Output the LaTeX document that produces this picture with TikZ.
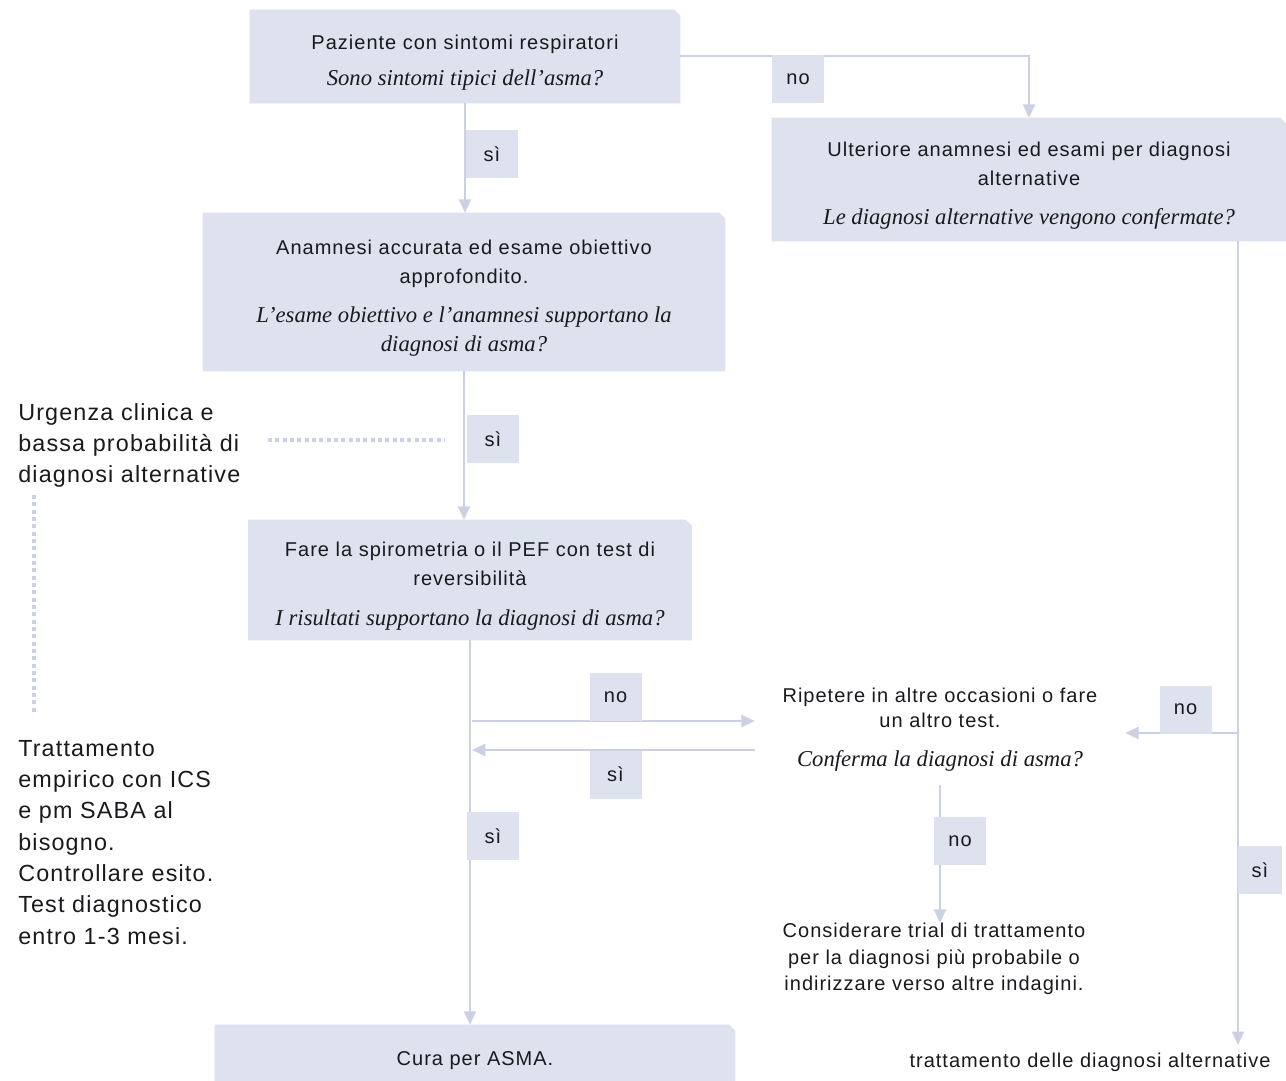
\documentclass[tikz,border=0pt]{standalone}
\usepackage{fontspec}
\setmainfont{Liberation Sans}[LetterSpace=5]
\newfontfamily\qfont{Liberation Serif}
\usetikzlibrary{arrows.meta}
\definecolor{boxfill}{RGB}{222,225,238}
\definecolor{linec}{RGB}{203,208,229}
\definecolor{txt}{RGB}{25,25,30}
\newcommand\bxfont{\fontsize{15}{21.75}\selectfont}
\newcommand\qtxt{\fontsize{17}{21.75}\selectfont\qfont\itshape}
\newcommand\lfont{\fontsize{17.5}{23.5}\selectfont}
\newcommand\chfill[1]{\fill[boxfill] (#1.south west) -- (#1.north west) -- ([xshift=-4.5pt]#1.north east) -- ([yshift=-4.5pt]#1.north east) -- (#1.south east) -- cycle;}
\begin{document}
\begin{tikzpicture}[x=0.75pt,y=-0.75pt,
  every node/.style={inner sep=0pt, text=txt},
  bigbox/.style={rectangle},
  boxtext/.style={align=center, font=\bxfont, yshift=-4.5pt},
  lab/.style={fill=boxfill, font=\bxfont, minimum width=39pt, minimum height=36pt},
  plain/.style={align=center, font=\bxfont},
  side/.style={align=left, anchor=north west, font=\lfont},
  conn/.style={draw=linec, line width=1.5pt},
  arr/.style={conn, -{Triangle[width=9pt,length=10pt]}},
  dotline/.style={draw=linec, line width=3pt, dash pattern=on 3pt off 2.5pt},
]
\useasboundingbox (0,0) rectangle (1286,1081);

% main boxes (shapes)
\node[bigbox, minimum width=322.5pt, minimum height=69.75pt] (A) at (465,56.5) {};
\node[bigbox, minimum width=391.5pt, minimum height=118.5pt] (B) at (464,292) {};
\node[bigbox, minimum width=332.25pt, minimum height=90pt] (C) at (470,580) {};
\node[bigbox, minimum width=385.5pt, minimum height=92.25pt] (D) at (1029,179.5) {};
\node[bigbox, minimum width=390pt, minimum height=42pt] (E) at (475,1053) {};
\chfill{A}\chfill{B}\chfill{C}\chfill{D}\chfill{E}

% box texts
\node[boxtext] (At) at (A.center)
  {Paziente con sintomi respiratori\\[5pt]{\qtxt Sono sintomi tipici dell’asma?}};
\node[boxtext] (Bt) at (B.center)
  {Anamnesi accurata ed esame obiettivo\\approfondito.\\[8pt]{\qtxt L’esame obiettivo e l’anamnesi supportano la}\\{\qtxt diagnosi di asma?}};
\node[boxtext] (Ct) at (C.center)
  {Fare la spirometria o il PEF con test di\\reversibilità\\[8pt]{\qtxt I risultati supportano la diagnosi di asma?}};
\node[boxtext] (Dt) at (D.center)
  {Ulteriore anamnesi ed esami per diagnosi\\alternative\\[7pt]{\qtxt Le diagnosi alternative vengono confermate?}};
\node[boxtext, yshift=-1.5pt] (Et) at (E.center) {Cura per ASMA.};

% free texts
\node[plain, font=\fontsize{15}{18.75}\selectfont, minimum width=277.5pt, minimum height=87pt] (R) at (940,727) {};
\node[plain, font=\fontsize{15}{18.75}\selectfont, yshift=-2pt] (Rt) at (R.center)
  {Ripetere in altre occasioni o fare\\un altro test.\\[11pt]{\qtxt Conferma la diagnosi di asma?}};
\node[plain, font=\fontsize{15}{20}\selectfont] (K) at (934,959)
  {Considerare trial di trattamento\\per la diagnosi più probabile o\\indirizzare verso altre indagini.};
\node[plain] (T) at (1090,1062) {trattamento delle diagnosi alternative};
\node[side] (U) at (18,403) {Urgenza clinica e\\bassa probabilità di\\diagnosi alternative};
\node[side] (S) at (18,740) {Trattamento\\empirico con ICS\\e pm SABA al\\bisogno.\\Controllare esito.\\Test diagnostico\\entro 1-3 mesi.};

% coordinates
\coordinate (h1) at (472,721);
\coordinate (h2) at (472,750);
\coordinate (d1) at (1238,241);
\coordinate (d2) at (1238,1045);
\coordinate (h3) at (1238,733);
\coordinate (u1) at (268,440);
\coordinate (u2) at (445,440);
\coordinate (v1) at (34,495);
\coordinate (v2) at (34,712);

% connectors
\draw[arr] (A.east) -| (D.north);
\draw[arr] (A.south) -- (A.south |- B.north);
\draw[arr] (B.south) -- (B.south |- C.north);
\draw[arr] (C.south) -- (C.south |- E.north);
\draw[arr] (h1) -- (R.west |- h1);
\draw[arr] (R.west |- h2) -- (h2);
\draw[arr] (d1) -- (d2);
\draw[arr] (h3) -- (R.east |- h3);
\draw[arr] (R.south) -- (R.south |- K.north);
\draw[dotline] (u1) -- (u2);
\draw[dotline] (v1) -- (v2);

% labels
\node[lab] (no1) at (798,79) {no};
\node[lab] (si1) at (492,154) {sì};
\node[lab] (si2) at (493,439) {sì};
\node[lab] (no2) at (615.5,697) {no};
\node[lab] (si3) at (615.5,774.5) {sì};
\node[lab] (si4) at (493,836) {sì};
\node[lab] (no3) at (1185.5,709.5) {no};
\node[lab] (no4) at (960,841) {no};
\node[lab, minimum width=33pt] (si5) at (1260,870) {sì};
\end{tikzpicture}
\end{document}
